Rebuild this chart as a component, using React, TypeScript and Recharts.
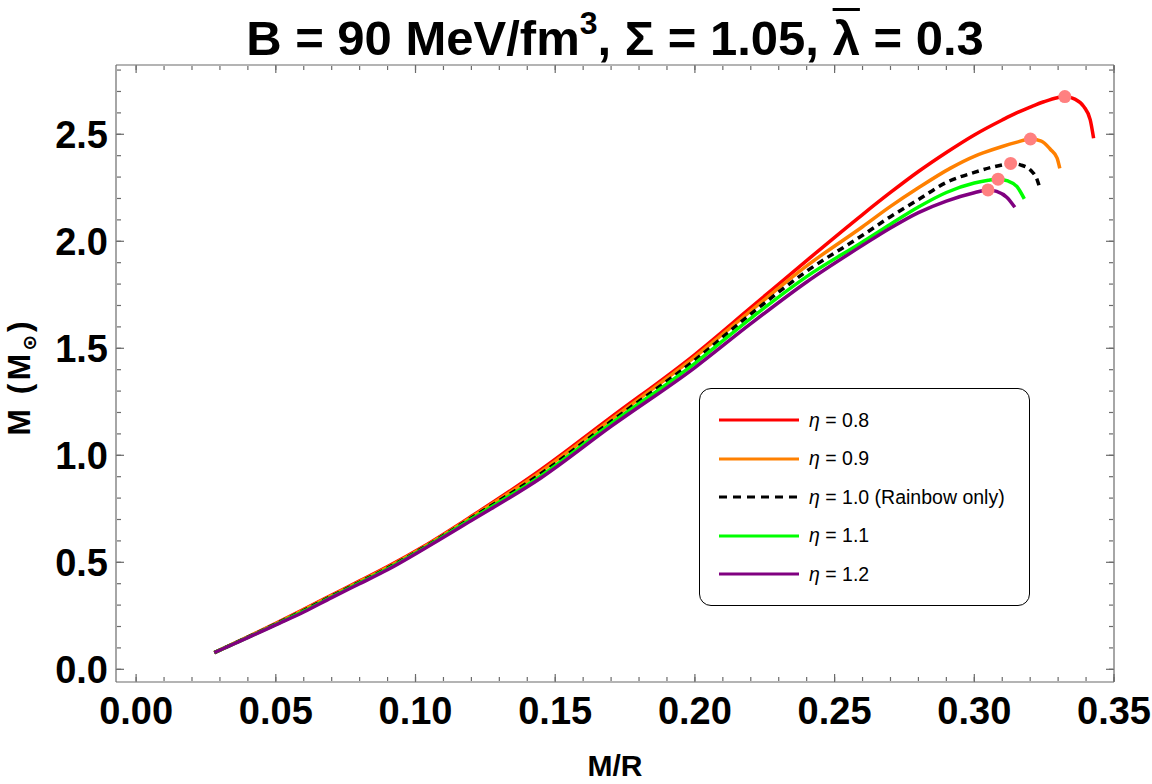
import React from 'react';
import { ComposedChart, Line, Scatter, XAxis, YAxis } from 'recharts';

// compactness M/R and mass M (in solar masses)
const redC = [0.028, 0.04, 0.05, 0.06, 0.07, 0.08, 0.09, 0.103, 0.12, 0.145, 0.17, 0.2, 0.22, 0.24, 0.26, 0.27, 0.28, 0.29, 0.3, 0.31, 0.3153, 0.32, 0.3249, 0.3297, 0.3324, 0.336, 0.3392, 0.3415, 0.3427];
const redM = [0.078, 0.152, 0.215, 0.28, 0.347, 0.413, 0.48, 0.575, 0.715, 0.934, 1.178, 1.471, 1.69, 1.91, 2.125, 2.228, 2.326, 2.415, 2.497, 2.567, 2.601, 2.627, 2.652, 2.671, 2.676, 2.664, 2.629, 2.567, 2.481];

const orangeC = [0.028, 0.04, 0.05, 0.06, 0.07, 0.08, 0.09, 0.103, 0.12, 0.145, 0.17, 0.2, 0.22, 0.24, 0.26, 0.27, 0.28, 0.2915, 0.3, 0.3034, 0.31, 0.315, 0.3201, 0.324, 0.3272, 0.3296, 0.3306];
const orangeM = [0.078, 0.151, 0.213, 0.278, 0.345, 0.41, 0.477, 0.572, 0.711, 0.925, 1.168, 1.46, 1.675, 1.885, 2.068, 2.163, 2.25, 2.342, 2.397, 2.414, 2.443, 2.462, 2.478, 2.468, 2.43, 2.39, 2.341];

const blackC = [0.028, 0.04, 0.05, 0.06, 0.07, 0.08, 0.09, 0.103, 0.12, 0.145, 0.17, 0.2, 0.22, 0.24, 0.26, 0.27, 0.28, 0.29, 0.3, 0.306, 0.31, 0.313, 0.3165, 0.3201, 0.3225, 0.3233];
const blackM = [0.078, 0.15, 0.212, 0.275, 0.342, 0.407, 0.473, 0.569, 0.707, 0.915, 1.158, 1.445, 1.66, 1.86, 2.028, 2.115, 2.195, 2.275, 2.322, 2.345, 2.357, 2.364, 2.357, 2.333, 2.287, 2.255];

const greenC = [0.028, 0.04, 0.05, 0.06, 0.07, 0.08, 0.09, 0.103, 0.12, 0.145, 0.17, 0.2, 0.22, 0.24, 0.26, 0.27, 0.28, 0.29, 0.3, 0.305, 0.3085, 0.312, 0.3153, 0.3179];
const greenM = [0.078, 0.149, 0.21, 0.272, 0.339, 0.404, 0.47, 0.566, 0.702, 0.905, 1.148, 1.43, 1.64, 1.835, 1.997, 2.08, 2.16, 2.228, 2.272, 2.285, 2.29, 2.282, 2.255, 2.198];

const purpleC = [0.028, 0.04, 0.05, 0.06, 0.07, 0.08, 0.09, 0.103, 0.12, 0.145, 0.17, 0.2, 0.22, 0.24, 0.26, 0.27, 0.28, 0.29, 0.3, 0.3049, 0.308, 0.3117, 0.3145];
const purpleM = [0.078, 0.148, 0.208, 0.268, 0.335, 0.4, 0.465, 0.562, 0.695, 0.895, 1.135, 1.41, 1.615, 1.81, 1.981, 2.062, 2.134, 2.188, 2.227, 2.24, 2.233, 2.205, 2.159];

// maximum-mass points
const peakC = [0.3324, 0.3201, 0.313, 0.3085, 0.3049];
const peakM = [2.676, 2.478, 2.364, 2.29, 2.24];

const xMajor = [0, 0.05, 0.1, 0.15, 0.2, 0.25, 0.3, 0.35];
const yMajor = [0, 0.5, 1, 1.5, 2, 2.5];
const xMinor = Array.from({ length: 36 }, (_, i) => i / 100);
const yMinor = Array.from({ length: 29 }, (_, i) => i / 10);

const X_DOMAIN: [number, number] = [-0.0072, 0.35];
const Y_DOMAIN: [number, number] = [-0.0593, 2.8237];

const FONT = '"Liberation Sans", Arial, sans-serif';
const FRAME = '#6b6b6b';

const zip = (c: number[], m: number[]) => c.map((x, i) => ({ x, y: m[i] }));

const series = [
  { label: '0.8', data: zip(redC, redM), color: '#ff0000', dash: undefined },
  { label: '0.9', data: zip(orangeC, orangeM), color: '#ff8000', dash: undefined },
  { label: '1.0 (Rainbow only)', data: zip(blackC, blackM), color: '#000000', dash: '7 5' },
  { label: '1.1', data: zip(greenC, greenM), color: '#00ff00', dash: undefined },
  { label: '1.2', data: zip(purpleC, purpleM), color: '#800080', dash: undefined },
];

const peaks = zip(peakC, peakM);

const tickFont = { fill: '#000', fontSize: 38, fontWeight: 700, fontFamily: FONT };
const tickLineStyle = { stroke: FRAME, strokeWidth: 1.2 };
const noLabel = () => <g />;

const LegendBox = () => (
  <div
    style={{
      position: 'absolute',
      left: 699,
      top: 388,
      width: 329,
      height: 216,
      border: '1.8px solid #000',
      borderRadius: 12,
      background: '#fff',
      fontFamily: FONT,
      fontSize: 19.5,
    }}
  >
    {series.map((s, i) => (
      <div
        key={s.label}
        style={{ position: 'absolute', left: 19, top: 18 + i * 38.5, height: 26, display: 'flex', alignItems: 'center', whiteSpace: 'nowrap' }}
      >
        <svg width={80} height={6} style={{ marginRight: 10 }}>
          <line x1={0} y1={3} x2={80} y2={3} stroke={s.color} strokeWidth={3} strokeDasharray={s.dash ? '8 6' : undefined} />
        </svg>
        <span>
          <i>η</i> = {s.label}
        </span>
      </div>
    ))}
  </div>
);

export default function App() {
  return (
    <div style={{ position: 'absolute', left: 0, top: 0, width: 1152, height: 784, background: '#fff' }}>
      <div
        style={{
          position: 'absolute',
          left: 116,
          width: 998,
          top: 14,
          textAlign: 'center',
          fontFamily: FONT,
          fontWeight: 700,
          fontSize: 49,
          lineHeight: '49px',
          whiteSpace: 'nowrap',
        }}
      >
        B = 90 MeV/fm<span style={{ fontSize: 32, position: 'relative', top: -21 }}>3</span>, Σ = 1.05,{' '}
        <span style={{ textDecoration: 'overline', textDecorationThickness: 3 }}>λ</span> = 0.3
      </div>

      <ComposedChart width={1152} height={784} margin={{ top: 65, right: 38, bottom: 42, left: 16 }}>
        <XAxis
          xAxisId="x"
          type="number"
          dataKey="x"
          domain={X_DOMAIN}
          allowDataOverflow
          ticks={xMajor}
          interval={0}
          tickLine={false}
          tickSize={0}
          tickMargin={15}
          height={60}
          axisLine={tickLineStyle}
          tick={tickFont}
          tickFormatter={(v: number) => v.toFixed(2)}
        />
        <XAxis xAxisId="xb" type="number" dataKey="x" mirror domain={X_DOMAIN} allowDataOverflow ticks={xMajor} interval={0} tickSize={8} tick={noLabel} axisLine={false} height={1} tickLine={tickLineStyle} />
        <XAxis xAxisId="xbm" type="number" dataKey="x" mirror domain={X_DOMAIN} allowDataOverflow ticks={xMinor} interval={0} tickSize={4} tick={noLabel} axisLine={false} height={1} tickLine={tickLineStyle} />
        <XAxis xAxisId="xt" type="number" dataKey="x" orientation="top" mirror domain={X_DOMAIN} allowDataOverflow ticks={xMajor} interval={0} tickSize={8} tick={noLabel} axisLine={tickLineStyle} height={1} tickLine={tickLineStyle} />
        <XAxis xAxisId="xtm" type="number" dataKey="x" orientation="top" mirror domain={X_DOMAIN} allowDataOverflow ticks={xMinor} interval={0} tickSize={4} tick={noLabel} axisLine={false} height={1} tickLine={tickLineStyle} />

        <YAxis
          yAxisId="y"
          type="number"
          domain={Y_DOMAIN}
          allowDataOverflow
          ticks={yMajor}
          interval={0}
          tickLine={false}
          tickSize={0}
          tickMargin={8}
          width={100}
          axisLine={tickLineStyle}
          tick={tickFont}
          tickFormatter={(v: number) => v.toFixed(1)}
        />
        <YAxis yAxisId="yl" type="number" mirror domain={Y_DOMAIN} allowDataOverflow ticks={yMajor} interval={0} tickSize={8} tick={noLabel} axisLine={false} width={1} tickLine={tickLineStyle} />
        <YAxis yAxisId="ylm" type="number" mirror domain={Y_DOMAIN} allowDataOverflow ticks={yMinor} interval={0} tickSize={4} tick={noLabel} axisLine={false} width={1} tickLine={tickLineStyle} />
        <YAxis yAxisId="yr" type="number" orientation="right" mirror domain={Y_DOMAIN} allowDataOverflow ticks={yMajor} interval={0} tickSize={8} tick={noLabel} axisLine={tickLineStyle} width={1} tickLine={tickLineStyle} />
        <YAxis yAxisId="yrm" type="number" orientation="right" mirror domain={Y_DOMAIN} allowDataOverflow ticks={yMinor} interval={0} tickSize={4} tick={noLabel} axisLine={false} width={1} tickLine={tickLineStyle} />

        {series.map((s) => (
          <Line
            key={s.label}
            xAxisId="x"
            yAxisId="y"
            data={s.data}
            dataKey="y"
            type="monotone"
            stroke={s.color}
            strokeWidth={3.5}
            strokeDasharray={s.dash}
            dot={false}
            activeDot={false}
            isAnimationActive={false}
          />
        ))}
        <Scatter
          xAxisId="x"
          yAxisId="y"
          data={peaks}
          dataKey="y"
          isAnimationActive={false}
          shape={(p: any) => <circle cx={p.cx} cy={p.cy} r={6.5} fill="#ff8080" />}
        />
      </ComposedChart>

      <div
        style={{
          position: 'absolute',
          left: 19,
          top: 377,
          transform: 'translate(-50%, -50%) rotate(-90deg)',
          fontFamily: FONT,
          fontWeight: 700,
          fontSize: 32,
          letterSpacing: 3,
          whiteSpace: 'nowrap',
        }}
      >
        M (M<span style={{ fontSize: 19, position: 'relative', top: 6, fontFamily: '"DejaVu Sans", sans-serif' }}>⊙</span>)
      </div>

      <div
        style={{
          position: 'absolute',
          left: 515,
          width: 200,
          top: 751,
          textAlign: 'center',
          fontFamily: FONT,
          fontWeight: 700,
          fontSize: 30,
          lineHeight: '30px',
        }}
      >
        M/R
      </div>

      <LegendBox />
    </div>
  );
}
